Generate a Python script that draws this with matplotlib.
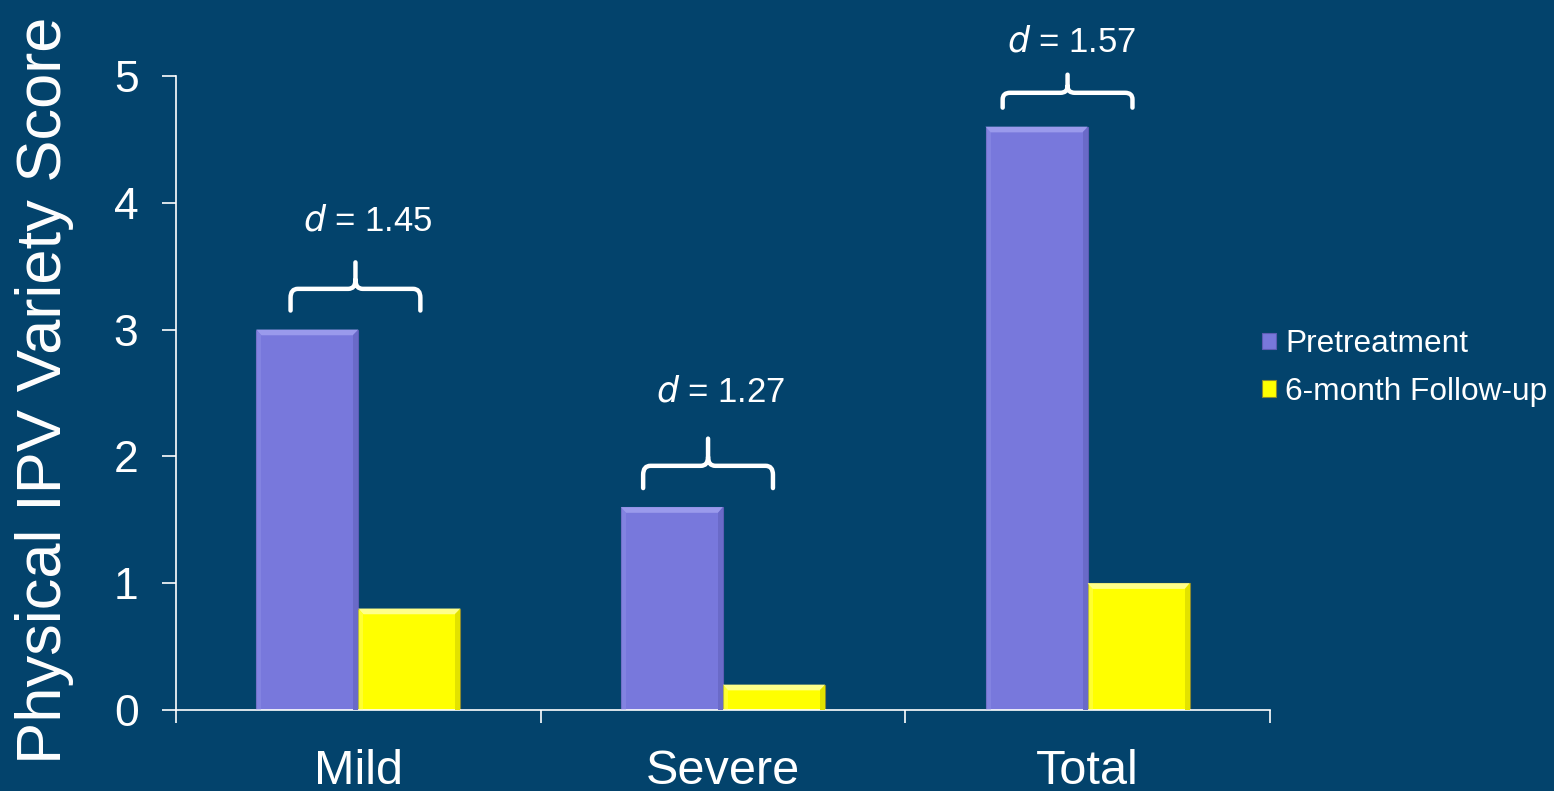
import matplotlib.pyplot as plt
import numpy as np
from matplotlib.path import Path
from matplotlib.patches import PathPatch

plt.rcParams['font.family'] = ['Liberation Sans', 'DejaVu Sans']

categories = ['Mild', 'Severe', 'Total']
pretreatment = [3.0, 1.6, 4.6]
followup = [0.8, 0.2, 1.0]
effect_d = ['1.45', '1.27', '1.57']
series_names = ['Pretreatment', '6-month Follow-up']

BG = '#03436c'
PURPLE = '#7878dc'
YELLOW = '#ffff00'
WHITE = 'white'

# brace placement per group (offsets from group centre, data units)
brace_left = [-0.186, -0.219, -0.233]
brace_w = 0.356
brace_h = [0.38, 0.39, 0.26]
label_dx = [0.027, -0.005, -0.044]
label_gap = [0.33, 0.37, 0.26]


def brace(ax, x0, x1, y0, h):
    # curly brace opening downward, cusp pointing up in the middle
    xc = (x0 + x1) / 2
    yh = y0 + h * 0.45
    yt = y0 + h
    rx = 0.02
    ry = min(h * 0.2, 0.07)
    verts = [(x0, y0), (x0, yh - ry), (x0, yh), (x0 + rx, yh),
             (xc - rx, yh), (xc, yh), (xc, yh + ry), (xc, yt),
             (xc, yh + ry), (xc, yh), (xc + rx, yh),
             (x1 - rx, yh), (x1, yh), (x1, yh - ry), (x1, y0)]
    codes = [Path.MOVETO, Path.LINETO, Path.CURVE3, Path.CURVE3,
             Path.LINETO, Path.CURVE3, Path.CURVE3, Path.LINETO,
             Path.MOVETO, Path.CURVE3, Path.CURVE3,
             Path.LINETO, Path.CURVE3, Path.CURVE3, Path.LINETO]
    ax.add_patch(PathPatch(Path(verts, codes), fill=False, ec=WHITE,
                           lw=3.2, capstyle='round', joinstyle='round',
                           clip_on=False))


def bevel(ax, bars, light, dark):
    # soft raised look: light top facet, darker right side
    bx, by = 0.014, 0.045
    for b in bars:
        x0, w, h = b.get_x(), b.get_width(), b.get_height()
        x1 = x0 + w
        ax.fill([x0, x1, x1 - bx, x0 + bx], [h, h, h - by, h - by],
                color=light, lw=0, zorder=3)
        ax.fill([x1, x1, x1 - bx, x1 - bx], [h, 0, 0, h - by],
                color=dark, lw=0, zorder=3)
        ax.fill([x0, x0, x0 + bx, x0 + bx], [h, 0, 0, h - by],
                color=light, lw=0, alpha=0.35, zorder=3)


fig = plt.figure(figsize=(15.54, 7.91), dpi=100, facecolor=BG)
ax = fig.add_axes([0.1133, 0.1024, 0.7039, 0.8016], facecolor=BG)

x = np.arange(len(categories))
w = 0.28
pre_bars = ax.bar(x - w / 2, pretreatment, w, color=PURPLE,
                  edgecolor='#5c5cb4', lw=0.8, label=series_names[0],
                  zorder=2)
fu_bars = ax.bar(x + w / 2, followup, w, color=YELLOW, edgecolor='#8a8a30',
                 lw=0.8, label=series_names[1], zorder=2)
bevel(ax, pre_bars, '#9a9aec', '#6a6ac8')
bevel(ax, fu_bars, '#ffff8a', '#e2e200')

# effect size braces over each group
for i, (top, d) in enumerate(zip(pretreatment, effect_d)):
    y0 = top + 0.15
    bl = i + brace_left[i]
    brace(ax, bl, bl + brace_w, y0, brace_h[i])
    ax.text(i + label_dx[i], y0 + brace_h[i] + label_gap[i], r'$d$ = ' + d,
            color=WHITE, fontsize=25, ha='center', va='center')

ax.set_xlim(-0.5, 2.5)
ax.set_ylim(0, 5)
ax.set_yticks(range(6))
ax.set_xticks([-0.5, 0.5, 1.5, 2.5])
ax.set_xticklabels([])
ax.set_xticks(x, minor=True)
ax.set_xticklabels(categories, minor=True)

for side in ['top', 'right']:
    ax.spines[side].set_visible(False)
for side in ['left', 'bottom']:
    ax.spines[side].set_color(WHITE)
    ax.spines[side].set_linewidth(1.2)

ax.tick_params(axis='y', colors=WHITE, labelsize=32, length=10, width=1.2,
               pad=17)
ax.tick_params(axis='x', which='major', colors=WHITE, length=9, width=1.2,
               direction='out')
ax.tick_params(axis='x', which='minor', colors=WHITE, labelsize=35,
               length=0, pad=28)

fig.text(0.0285, 0.507, 'Physical IPV Variety Score', color=WHITE,
         fontsize=45.5, rotation=90, ha='center', va='center')

leg = ax.legend(loc='center left', bbox_to_anchor=(0.8021, 0.5347),
                bbox_transform=fig.transFigure, frameon=False,
                fontsize=22.8, handlelength=0.42, handleheight=0.42,
                handletextpad=0.3, labelspacing=0.56, borderpad=0)
for t in leg.get_texts():
    t.set_color(WHITE)

fig.savefig('out.png', dpi=100, facecolor=BG)
